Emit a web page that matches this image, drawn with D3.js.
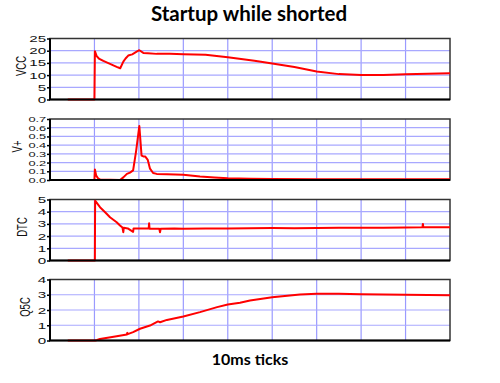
<!DOCTYPE html>
<html>
<head>
<meta charset="utf-8">
<script src="https://cdn.jsdelivr.net/npm/d3@7"></script>
<style>
body { margin: 0; background: #fff; }
svg { display: block; }
</style>
</head>
<body>
<div class="canvas"></div>
<script>
// time axis in ms, one gridline per 10ms
const xTicks = [0, 10, 20, 30, 40, 50, 60, 70, 80, 90]

// VCC
const vccTime = [4, 10, 10.1, 10.5, 11, 12, 13, 14, 15, 15.8, 16.5, 17, 17.6, 18.5, 19.5, 20.1, 21, 22, 24, 27, 30, 35, 40, 43, 46, 50, 55, 60, 65, 70, 75, 80, 85, 90]
const vccVals = [0, 0, 19.8, 17.8, 16.8, 15.8, 15, 14.2, 13.4, 12.8, 15.5, 16.8, 18, 18.5, 19.6, 20.2, 19.1, 19, 18.7, 18.7, 18.5, 18.3, 17.3, 16.6, 15.9, 14.8, 13.3, 11.5, 10.4, 10, 10, 10.3, 10.6, 10.8]
const vccTicks = [0, 5, 10, 15, 20, 25]

// V+
const vpTime = [4, 10, 10.1, 10.4, 10.8, 11.3, 15.75, 16.5, 17.3, 18, 18.7, 19.4, 20.1, 20.6, 21, 21.4, 22, 22.5, 23.2, 24, 26.3, 30, 33.75, 37, 40, 45, 50, 60, 70, 80, 90]
const vpVals = [0, 0, 0.12, 0.05, 0.02, 0.005, 0, 0.03, 0.07, 0.085, 0.11, 0.34, 0.62, 0.28, 0.27, 0.27, 0.23, 0.13, 0.08, 0.07, 0.065, 0.06, 0.04, 0.03, 0.02, 0.015, 0.012, 0.01, 0.009, 0.009, 0.009]
const vpTicks = [0, 0.1, 0.2, 0.3, 0.4, 0.5, 0.6, 0.7]

// DTC
const dtcTime = [4, 10.1, 10.15, 11.25, 12.4, 13.5, 15, 15.75, 16.3, 16.5, 16.6, 17.5, 18.7, 18.8, 20, 22.2, 22.3, 22.4, 24.6, 24.75, 24.9, 28, 30, 35, 40, 45, 50, 55, 60, 65, 70, 75, 80, 83.8, 83.9, 84, 87, 90]
const dtcVals = [0, 0, 4.9, 4.37, 3.96, 3.55, 3.14, 2.87, 2.7, 2.32, 2.68, 2.63, 2.35, 2.63, 2.62, 2.62, 3.05, 2.6, 2.6, 2.32, 2.6, 2.62, 2.6, 2.62, 2.63, 2.64, 2.66, 2.65, 2.67, 2.68, 2.69, 2.69, 2.7, 2.72, 3.0, 2.72, 2.72, 2.73]
const dtcTicks = [0, 1, 2, 3, 4, 5]

// Q5C
const q5cTime = [4, 10.2, 10.6, 11.25, 15, 17.3, 17.4, 17.5, 18.7, 20.25, 22.5, 24.3, 24.75, 26.3, 30, 33.75, 37.6, 40, 42.75, 45, 50, 56.25, 60, 65, 70, 75, 80, 85, 90]
const q5cVals = [0, 0, 0.03, 0.1, 0.28, 0.4, 0.5, 0.42, 0.55, 0.77, 0.98, 1.25, 1.2, 1.35, 1.57, 1.86, 2.19, 2.36, 2.47, 2.62, 2.84, 3.02, 3.06, 3.06, 3.04, 3.02, 3.0, 2.98, 2.97]
const q5cTicks = [0, 1, 2, 3, 4]

const panels = [
  {name: 'VCC', t: vccTime, v: vccVals, ticks: vccTicks, fmt: d3.format('d'), top: 38.5, lx: 20.5, fs: 9.5},
  {name: 'V+', t: vpTime, v: vpVals, ticks: vpTicks, fmt: d3.format('.1f'), top: 119, lx: 16.5, fs: 8},
  {name: 'DTC', t: dtcTime, v: dtcVals, ticks: dtcTicks, fmt: d3.format('d'), top: 199.5, lx: 21.5, fs: 9.5},
  {name: 'Q5C', t: q5cTime, v: q5cVals, ticks: q5cTicks, fmt: d3.format('d'), top: 279.5, lx: 24.5, fs: 9.5}
]

const width = 500, height = 383
const left = 50, right = 450, panelHeight = 61
const stretch = 1.6

const svg = d3.select('.canvas')
  .append('svg')
  .attr('width', width)
  .attr('height', height)

svg.append('text')
  .attr('x', 249)
  .attr('y', 20.5)
  .attr('text-anchor', 'middle')
  .attr('font-family', 'Lato, sans-serif')
  .attr('font-weight', 'bold')
  .attr('font-size', 20.5)
  .attr('fill', '#000')
  .text('Startup while shorted')

svg.append('text')
  .attr('x', 250)
  .attr('y', 365)
  .attr('text-anchor', 'middle')
  .attr('font-family', 'Lato, sans-serif')
  .attr('font-weight', 'bold')
  .attr('font-size', 16)
  .attr('fill', '#000')
  .text('10ms ticks')

const x = d3.scaleLinear().domain([0, 90]).range([left, right])

panels.forEach(p => {
  const y = d3.scaleLinear()
    .domain([0, d3.max(p.ticks)])
    .range([p.top + panelHeight, p.top])

  const g = svg.append('g')

  // grid
  g.selectAll('.vgrid')
    .data(xTicks.slice(1, -1))
    .enter().append('line')
    .attr('x1', d => x(d)).attr('x2', d => x(d))
    .attr('y1', p.top).attr('y2', p.top + panelHeight)
    .attr('stroke', '#9a9aff')
    .attr('stroke-width', 1.2)

  g.selectAll('.hgrid')
    .data(p.ticks.slice(1, -1))
    .enter().append('line')
    .attr('x1', left).attr('x2', right)
    .attr('y1', d => y(d)).attr('y2', d => y(d))
    .attr('stroke', '#a8a8ff')
    .attr('stroke-width', 1.2)

  // frame
  g.append('rect')
    .attr('x', left).attr('y', p.top)
    .attr('width', right - left).attr('height', panelHeight)
    .attr('fill', 'none')
    .attr('stroke', '#333')
    .attr('stroke-width', 1.5)

  // data
  const line = d3.line()
    .x((d, i) => x(p.t[i]))
    .y(d => y(d))

  g.append('path')
    .datum(p.v)
    .attr('d', line)
    .attr('fill', 'none')
    .attr('stroke', '#ff0000')
    .attr('stroke-width', 2)
    .attr('stroke-linejoin', 'round')

  // axes
  const yAxis = d3.axisLeft(y)
    .tickValues(p.ticks)
    .tickSize(3)
    .tickFormat(p.fmt)

  const yAxisGroup = g.append('g')
    .attr('transform', `translate(${left}, 0)`)
    .call(yAxis)

  yAxisGroup.select('.domain').remove()
  yAxisGroup.selectAll('line').attr('stroke', '#000').attr('stroke-width', 1.5)
  yAxisGroup.selectAll('text')
    .attr('x', -3.8 / stretch)
    .attr('transform', `scale(${stretch}, 1)`)
    .attr('font-family', '"Liberation Sans", Arial, sans-serif')
    .attr('font-size', p.fs)
    .attr('fill', '#111')

  g.append('line')
    .attr('x1', left).attr('x2', left)
    .attr('y1', p.top).attr('y2', p.top + panelHeight)
    .attr('stroke', '#000').attr('stroke-width', 2)
  g.append('line')
    .attr('x1', left - 1).attr('x2', right)
    .attr('y1', p.top + panelHeight).attr('y2', p.top + panelHeight)
    .attr('stroke', '#000').attr('stroke-width', 2)

  g.append('text')
    .attr('transform', `translate(${p.lx}, ${p.top + panelHeight / 2 - 3}) scale(${stretch}, 1) rotate(-90)`)
    .attr('dy', '0.35em')
    .attr('text-anchor', 'middle')
    .attr('font-family', '"Liberation Sans", Arial, sans-serif')
    .attr('font-size', 9.5)
    .attr('fill', '#111')
    .text(p.name)
})
</script>
</body>
</html>
